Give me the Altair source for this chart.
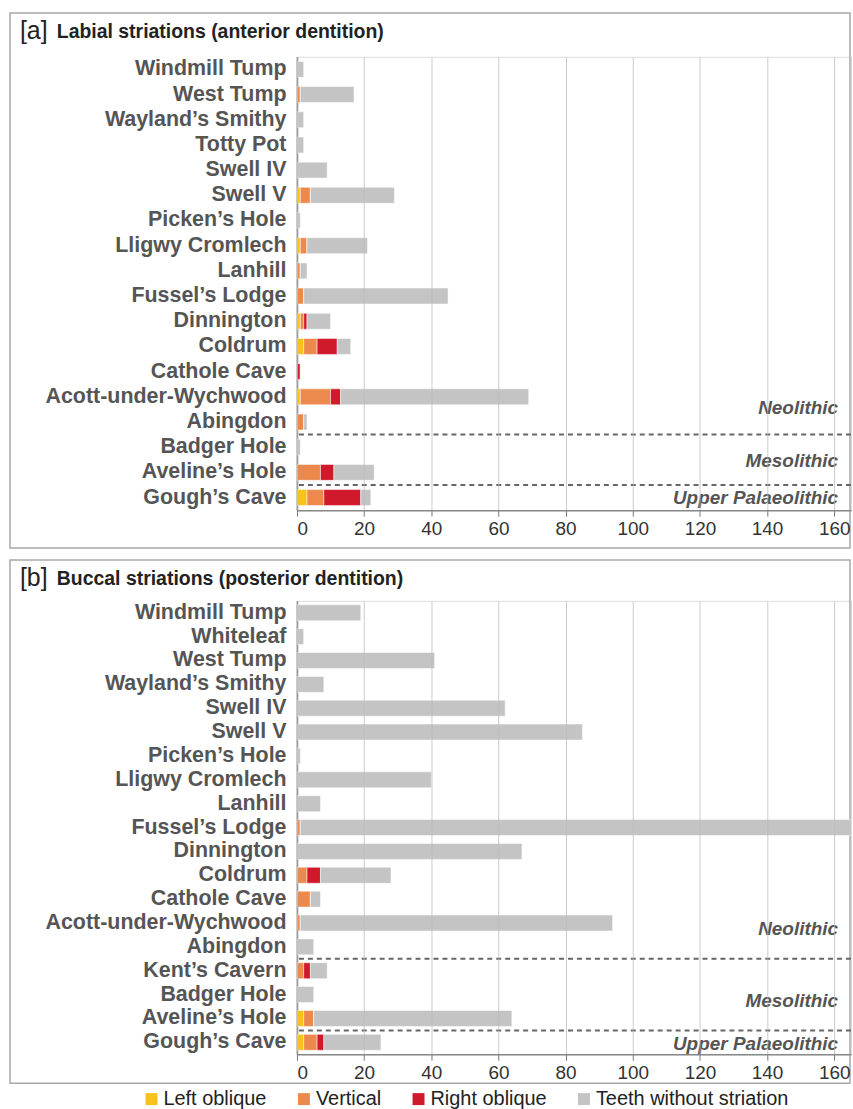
import altair as alt
import pandas as pd

# ---- data -----------------------------------------------------------------
categories = ["Left oblique", "Vertical", "Right oblique", "Teeth without striation"]
colors = ["#F7C21C", "#EC8A4E", "#D0192B", "#C4C4C4"]

sites_a = ["Windmill Tump", "West Tump", "Wayland’s Smithy", "Totty Pot", "Swell IV",
           "Swell V", "Picken’s Hole", "Lligwy Cromlech", "Lanhill", "Fussel’s Lodge",
           "Dinnington", "Coldrum", "Cathole Cave", "Acott-under-Wychwood", "Abingdon",
           "Badger Hole", "Aveline’s Hole", "Gough’s Cave"]
left_a = [0, 0, 0, 0, 0, 1, 0, 1, 0, 0, 1, 2, 0, 1, 0, 0, 0, 3]
vert_a = [0, 1, 0, 0, 0, 3, 0, 2, 1, 2, 1, 4, 0, 9, 2, 0, 7, 5]
right_a = [0, 0, 0, 0, 0, 0, 0, 0, 0, 0, 1, 6, 1, 3, 0, 0, 4, 11]
none_a = [2, 16, 2, 2, 9, 25, 1, 18, 2, 43, 7, 4, 0, 56, 1, 1, 12, 3]

sites_b = ["Windmill Tump", "Whiteleaf", "West Tump", "Wayland’s Smithy", "Swell IV",
           "Swell V", "Picken’s Hole", "Lligwy Cromlech", "Lanhill", "Fussel’s Lodge",
           "Dinnington", "Coldrum", "Cathole Cave", "Acott-under-Wychwood", "Abingdon",
           "Kent’s Cavern", "Badger Hole", "Aveline’s Hole", "Gough’s Cave"]
left_b = [0, 0, 0, 0, 0, 0, 0, 0, 0, 0, 0, 0, 0, 0, 0, 0, 0, 2, 2]
vert_b = [0, 0, 0, 0, 0, 0, 0, 0, 0, 1, 0, 3, 4, 1, 0, 2, 0, 3, 4]
right_b = [0, 0, 0, 0, 0, 0, 0, 0, 0, 0, 0, 4, 0, 0, 0, 2, 0, 0, 2]
none_b = [19, 2, 41, 8, 62, 85, 1, 40, 7, 174, 67, 21, 3, 93, 5, 5, 5, 59, 17]

x_ticks = [0, 20, 40, 60, 80, 100, 120, 140, 160]

# ---- layout constants -------------------------------------------------------
W, H = 556, 455
XMAX = W / 3.37
FONT = "Liberation Sans"


def long_table(sites, series):
    rows = []
    for i, s in enumerate(sites):
        for k, (cat, vals) in enumerate(zip(categories, series)):
            rows.append({"site": s, "cat": cat, "n": vals[i], "k": k})
    return pd.DataFrame(rows)


def one():
    return alt.Data(values=[{"a": 1}])


def panel(tag, title, sites, series, border_bottom, title_y, boundaries, periods):
    df = long_table(sites, series)
    yscale = alt.Scale(domain=sites, paddingInner=0, paddingOuter=0)

    border = alt.Chart(one()).mark_rect(filled=False, stroke="#A8A8A8", strokeWidth=1.5).encode(
        x=alt.value(-288), x2=alt.value(W - 1),
        y=alt.value(title_y - 18), y2=alt.value(H + border_bottom))

    tag_txt = alt.Chart(one()).mark_text(
        text=tag, align="left", baseline="middle", font=FONT, fontSize=25,
        color="#222222").encode(x=alt.value(-278), y=alt.value(title_y))
    title_txt = alt.Chart(one()).mark_text(
        text=title, align="left", baseline="middle", font=FONT, fontSize=19.5,
        fontWeight="bold", color="#222222").encode(x=alt.value(-241), y=alt.value(title_y + 1))

    bars = alt.Chart(df).mark_bar(size=16, stroke="white", strokeWidth=0.5, clip=True).encode(
        y=alt.Y("site:N", sort=sites, scale=yscale,
                axis=alt.Axis(title=None, labelFontSize=21.5, labelFontWeight="bold",
                              labelColor="#555555", labelFont=FONT, ticks=False,
                              labelPadding=11, labelLimit=400, domainColor="#555555",
                              domainWidth=1.5)),
        x=alt.X("n:Q", stack="zero",
                scale=alt.Scale(domain=[0, XMAX], nice=False, zero=True),
                axis=alt.Axis(title=None, values=x_ticks, labelFontSize=19, labelFont=FONT,
                              labelColor="#333333", tickColor="#777777", tickSize=6,
                              domainColor="#888888", domainWidth=1.5, gridColor="#BBBBBB",
                              gridOpacity=0.75, labelPadding=3, zindex=1)),
        color=alt.Color("cat:N", scale=alt.Scale(domain=categories, range=colors),
                        legend=alt.Legend(title=None, orient="none", direction="horizontal",
                                          legendX=-156, legendY=1036, columns=4,
                                          symbolType="square", symbolSize=144,
                                          symbolStrokeWidth=0, labelFontSize=20,
                                          labelFont=FONT, labelColor="#222222",
                                          columnPadding=27, labelOffset=2,
                                          labelLimit=300)),
        order=alt.Order("k:Q"),
    )

    rules = alt.Chart(pd.DataFrame({"site": boundaries})).mark_rule(
        strokeDash=[5, 4], strokeWidth=2, color="#666666").encode(
        y=alt.Y("site:N", sort=sites, scale=yscale, bandPosition=0))

    layers = [border, tag_txt, title_txt, bars, rules]
    for site, label, dy in periods:
        layers.append(
            alt.Chart(pd.DataFrame({"site": [site]})).mark_text(
                text=label, align="right", baseline="middle", font=FONT, fontSize=19,
                fontWeight="bold", fontStyle="italic", color="#555555", dy=dy).encode(
                y=alt.Y("site:N", sort=sites, scale=yscale),
                x=alt.value(W - 13)))

    return alt.layer(*layers).properties(width=W, height=H)


panel_a = panel("[a]", "Labial striations (anterior dentition)", sites_a,
                [left_a, vert_a, right_a, none_a], 38, -26,
                ["Badger Hole", "Gough’s Cave"],
                [("Acott-under-Wychwood", "Neolithic", 11),
                 ("Aveline’s Hole", "Mesolithic", -11),
                 ("Gough’s Cave", "Upper Palaeolithic", 0)])

panel_b = panel("[b]", "Buccal striations (posterior dentition)", sites_b,
                [left_b, vert_b, right_b, none_b], 29, -23,
                ["Kent’s Cavern", "Gough’s Cave"],
                [("Acott-under-Wychwood", "Neolithic", 6),
                 ("Badger Hole", "Mesolithic", 6),
                 ("Gough’s Cave", "Upper Palaeolithic", 2)])

chart = alt.vconcat(panel_a, panel_b, spacing=8).properties(
    padding={"left": 8, "top": 9, "right": 0, "bottom": 0}
).configure_view(stroke=None).configure(font=FONT)

chart.save("out.html", embed_options={"renderer": "svg", "actions": False})
